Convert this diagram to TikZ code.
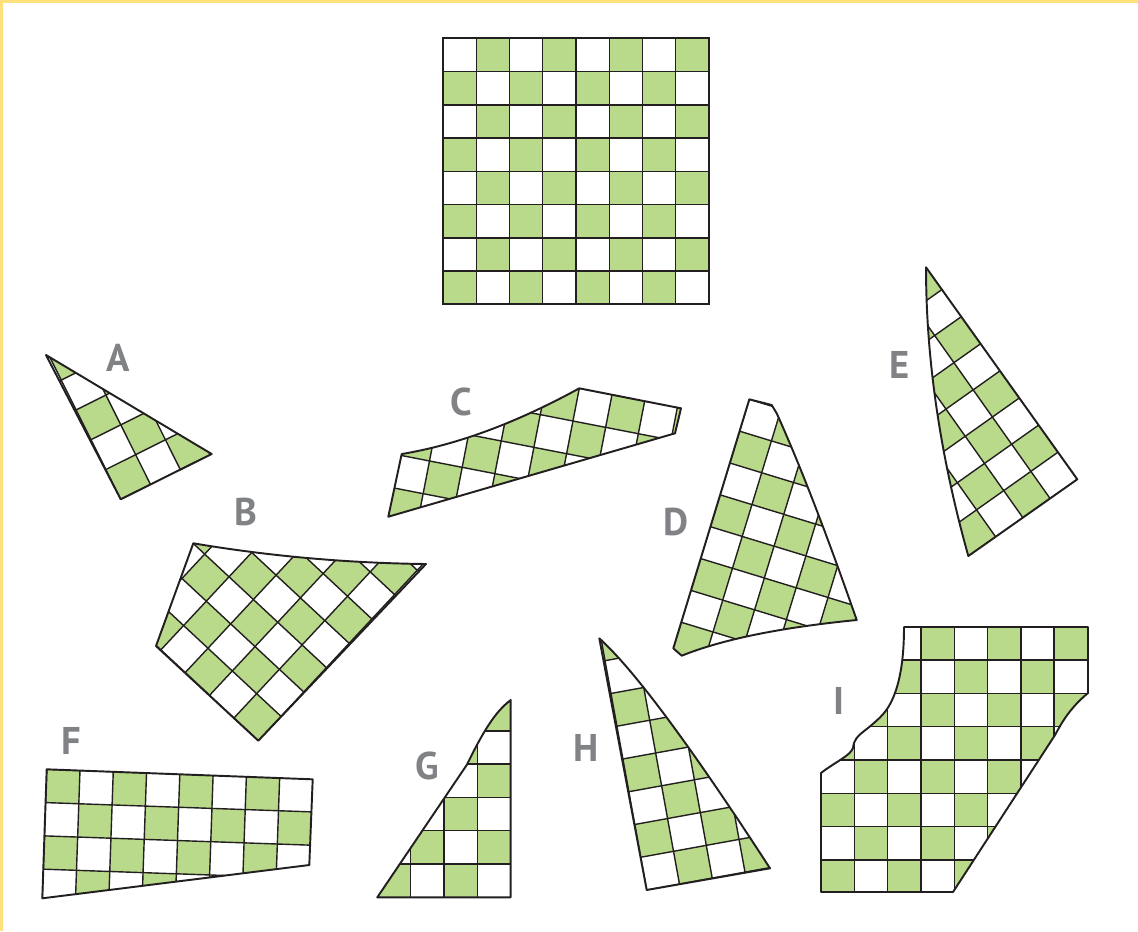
\documentclass[tikz,border=0pt]{standalone}
\usepackage{fontspec}
\setmainfont{PT Sans}
\usepackage{tikz}
\definecolor{cellgreen}{RGB}{184,218,138}
\definecolor{letter}{RGB}{128,130,133}
\definecolor{frameyellow}{RGB}{255,224,122}
\definecolor{ink}{RGB}{35,31,32}

% checker cells of one piece, #1 = parity of the green cells
\newcommand{\cells}[1]{%
  \foreach \i in {-9,...,9} {\foreach \j in {-9,...,9} {\pgfmathtruncatemacro{\g}{mod(\i+\j+#1+100,2)} \ifnum\g=0 \fill[cellgreen] (\i,\j) rectangle ++(1,1); \fi}}
  \foreach \k in {-9,...,10} {\draw[gridline] (\k,-9) -- (\k,10); \draw[gridline] (-9,\k) -- (10,\k);}}
% outline, grid origin, grid angle, parity
\newcommand{\piece}[4]{%
  \begin{scope} \clip #1; \begin{scope}[shift={#2},rotate=#3,scale=33.3] \cells{#4} \end{scope} \end{scope}
  \draw[cut] #1;}

\begin{document}
\begin{tikzpicture}[x=0.02cm,y=-0.02cm,
  gridline/.style={ink,line width=0.8pt},
  cut/.style={ink,line width=1.1pt,line join=round},
  board/.style={ink,line width=1.3pt},
  tag/.style={text=letter,font=\fontsize{22}{22}\selectfont\bfseries,inner sep=0pt}]
  \useasboundingbox (0,0) rectangle (1138,931);
  \fill[frameyellow] (0,0) rectangle (1138,3);
  \fill[frameyellow] (0,0) rectangle (2.5,931);

  % whole board
  \begin{scope}[shift={(443,38.3)},scale=33.25]
    \foreach \i in {0,...,7} {\foreach \j in {0,...,7} {\pgfmathtruncatemacro{\g}{mod(\i+\j,2)} \ifnum\g=1 \fill[cellgreen] (\i,\j) rectangle ++(1,1); \fi}}
    \foreach \k in {1,...,7} {\draw[gridline] (\k,0) -- (\k,8); \draw[gridline] (0,\k) -- (8,\k);}
    \draw[board] (0,0) rectangle (8,8);
  \end{scope}

  % pieces
  \piece{(46,355) -- (211.7,454) -- (120.7,499.3) -- cycle}{(120.7,499.3)}{26.5}{1}
  \piece{(193.3,543.3) .. controls (269.8,556.2) and (347.3,563.1) .. (426,564) -- (258.3,740.7) -- (156,646) -- cycle}{(258.3,740.7)}{47}{1}
  \piece{(388.3,516.7) -- (401.7,454) .. controls (456.8,444.9) and (516,423) .. (579.3,388.3) -- (681,408.3) -- (675,433.3) -- cycle}{(579.3,388.3)}{-11}{1}
  \piece{(749.3,399.3) -- (771.7,405) -- (776.7,413.3) .. controls (800.5,466) and (827,535) .. (856.7,620) .. controls (780.4,627.5) and (722.1,639.4) .. (681.7,655.7) -- (673.3,648.3) -- cycle}{(749.3,399.3)}{-17}{1}
  \piece{(926,267.3) -- (1077.3,479.3) -- (968.3,556) .. controls (940.1,455.3) and (926,359.1) .. (926,267.3) -- cycle}{(1077.3,479.3)}{35.3}{1}
  \piece{(46.7,769.3) -- (312.7,779.3) -- (309.3,865) -- (42.3,898.3) -- cycle}{(46.7,769.3)}{-2}{0}
  \piece{(377.3,897.3) -- (510.7,897.3) -- (510.7,700) .. controls (495,712) and (484,730) .. (466.7,765) -- cycle}{(377.3,897.3)}{0}{1}
  \piece{(599.3,638.3) .. controls (634,669.6) and (690.9,746.3) .. (770,868.3) -- (646.7,890) -- cycle}{(646.7,890)}{10.3}{0}
  \piece{(904,627) -- (1088,627) -- (1088,693) .. controls (1070,708) and (1062,722) .. (1055,735) -- (953,892) -- (821,892) -- (821,773) .. controls (835,762) and (850,756) .. (853,748) .. controls (854,740) and (856,737) .. (868,728) .. controls (880,718) and (887,712) .. (893,698) .. controls (902,677) and (904,650) .. (904,627) -- cycle}{(821,626.7)}{0}{1}

  % letters
  \node[tag] (lA) at (118,358) {A};
  \node[tag] (lB) at (246,512) {B};
  \node[tag] (lC) at (461,402) {C};
  \node[tag] (lD) at (676,522) {D};
  \node[tag] (lE) at (900,365) {E};
  \node[tag] (lF) at (71,741) {F};
  \node[tag] (lG) at (427,766) {G};
  \node[tag] (lH) at (586,748) {H};
  \node[tag] (lI) at (839,701) {I};
\end{tikzpicture}
\end{document}
